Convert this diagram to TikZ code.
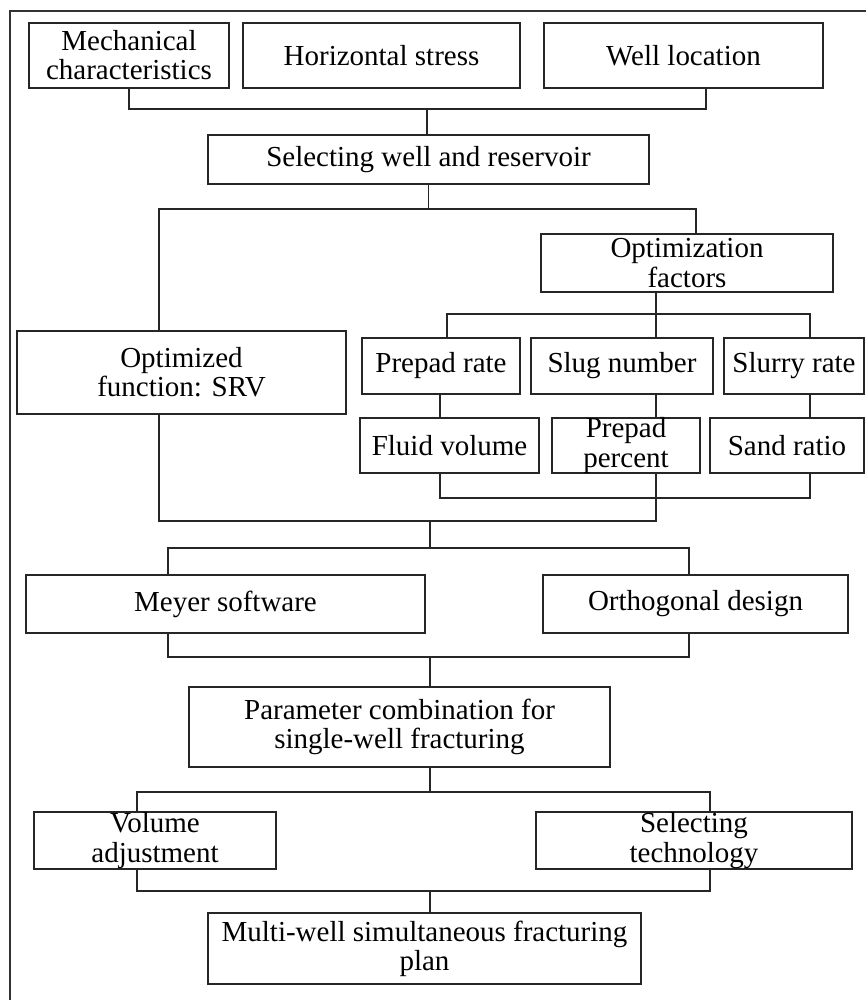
\documentclass[tikz,border=0pt]{standalone}
\usepackage{fontspec}
\setmainfont{Liberation Serif}
\usetikzlibrary{calc}
\tikzset{box/.style={draw, align=center, inner sep=0pt, font=\fontsize{16.5}{16.6}\selectfont},
         link/.style={draw=black!85, line width=1.1pt}}

\begin{document}
\begin{tikzpicture}[x=0.02cm,y=-0.02cm]
\useasboundingbox (0,0) rectangle (865,1000);
\draw[black!80, line width=0.9pt] (10,1010) -- (10,11) -- (875,11);
\begin{scope}[line width = 1.1pt, every node/.append style={draw=black!85}]
\node[box, minimum width=4.00cm, minimum height=1.30cm] (mech) at (129,55.5) {Mechanical\\characteristics};
\node[box, minimum width=5.54cm, minimum height=1.30cm] (hstress) at (381.5,55.5) {\raisebox{-8pt}{Horizontal stress}};
\node[box, minimum width=5.58cm, minimum height=1.30cm] (wellloc) at (683.5,55.5) {Well location};
\node[box, minimum width=8.82cm, minimum height=0.98cm] (sel) at (428.5,159.5) {Selecting well and reservoir};
\node[box, minimum width=5.84cm, minimum height=1.16cm] (optfac) at (687,263) {Optimization\\factors};
\node[box, minimum width=6.58cm, minimum height=1.66cm] (optfun) at (181.5,372.5) {Optimized\\function: SRV};
\node[box, minimum width=3.16cm, minimum height=1.12cm] (prate) at (441,366) {Prepad rate};
\node[box, minimum width=3.64cm, minimum height=1.12cm] (slug) at (622,366) {Slug number};
\node[box, minimum width=2.80cm, minimum height=1.12cm] (slurry) at (794,366) {Slurry rate};
\node[box, minimum width=3.58cm, minimum height=1.10cm] (fluid) at (449.5,445.5) {Fluid volume};
\node[box, minimum width=2.96cm, minimum height=1.10cm] (ppct) at (626,445.5) {Prepad\\percent};
\node[box, minimum width=3.08cm, minimum height=1.10cm] (sand) at (787,445.5) {Sand ratio};
\node[box, minimum width=7.98cm, minimum height=1.16cm] (meyer) at (225.5,604) {Meyer software};
\node[box, minimum width=6.10cm, minimum height=1.16cm] (ortho) at (695.5,604) {Orthogonal design};
\node[box, minimum width=8.42cm, minimum height=1.60cm] (param) at (399.5,727) {Parameter combination for\\single-well fracturing};
\node[box, minimum width=4.84cm, minimum height=1.14cm] (volume) at (155,840.5) {Volume\\adjustment};
\node[box, minimum width=6.32cm, minimum height=1.14cm] (seltech) at (694,840.5) {Selecting\\technology};
\node[box, minimum width=8.66cm, minimum height=1.42cm] (multi) at (424.5,948.5) {Multi-well simultaneous fracturing\\plan};
\end{scope}
% bracket corners
\coordinate (b1) at (427,109); \coordinate (b1r) at (706,109);
\coordinate (b2l) at (159,209); \coordinate (b2r) at (696,209);
\coordinate (b3l) at (447,314); \coordinate (b3m) at (656,314); \coordinate (b3r) at (810,314);
\coordinate (b4l) at (440,498); \coordinate (b4m) at (656,498); \coordinate (b4r) at (810,498);
\coordinate (m1) at (159,521); \coordinate (m2) at (656,521); \coordinate (m3) at (430,521);
\coordinate (b5l) at (168,548); \coordinate (b5m) at (430,548); \coordinate (b5r) at (689,548);
\coordinate (b6l) at (168,657); \coordinate (b6m) at (430,657); \coordinate (b6r) at (689,657);
\coordinate (b7l) at (137,792); \coordinate (b7m) at (430,792); \coordinate (b7r) at (710,792);
\coordinate (b8l) at (137,891); \coordinate (b8m) at (430,891); \coordinate (b8r) at (710,891);
\begin{scope}[link]
\draw (mech.south) |- (b1r) -- (b1r |- wellloc.south);
\draw (b1) -- (b1 |- sel.north);
\draw (sel.south) -- (sel.south |- b2l);
\draw (b2l |- optfun.north) -- (b2l) -- (b2r) -- (b2r |- optfac.north);
\draw (b3m |- optfac.south) -- (b3m |- slug.north);
\draw (b3l |- prate.north) -- (b3l) -- (b3r) -- (b3r |- slurry.north);
\draw (b4l |- prate.south) -- (b4l |- fluid.north);
\draw (b4m |- slug.south) -- (b4m |- ppct.north);
\draw (b4r |- slurry.south) -- (b4r |- sand.north);
\draw (b4l |- fluid.south) -- (b4l) -- (b4r) -- (b4r |- sand.south);
\draw (m1 |- optfun.south) -- (m1) -- (m2) -- (m2 |- ppct.south);
\draw (m3) -- (b5m);
\draw (b5l |- meyer.north) -- (b5l) -- (b5r) -- (b5r |- ortho.north);
\draw (b6l |- meyer.south) -- (b6l) -- (b6r) -- (b6r |- ortho.south);
\draw (b6m) -- (b6m |- param.north);
\draw (b7m |- param.south) -- (b7m);
\draw (b7l |- volume.north) -- (b7l) -- (b7r) -- (b7r |- seltech.north);
\draw (b8l |- volume.south) -- (b8l) -- (b8r) -- (b8r |- seltech.south);
\draw (b8m) -- (b8m |- multi.north);
\end{scope}
\end{tikzpicture}
\end{document}
